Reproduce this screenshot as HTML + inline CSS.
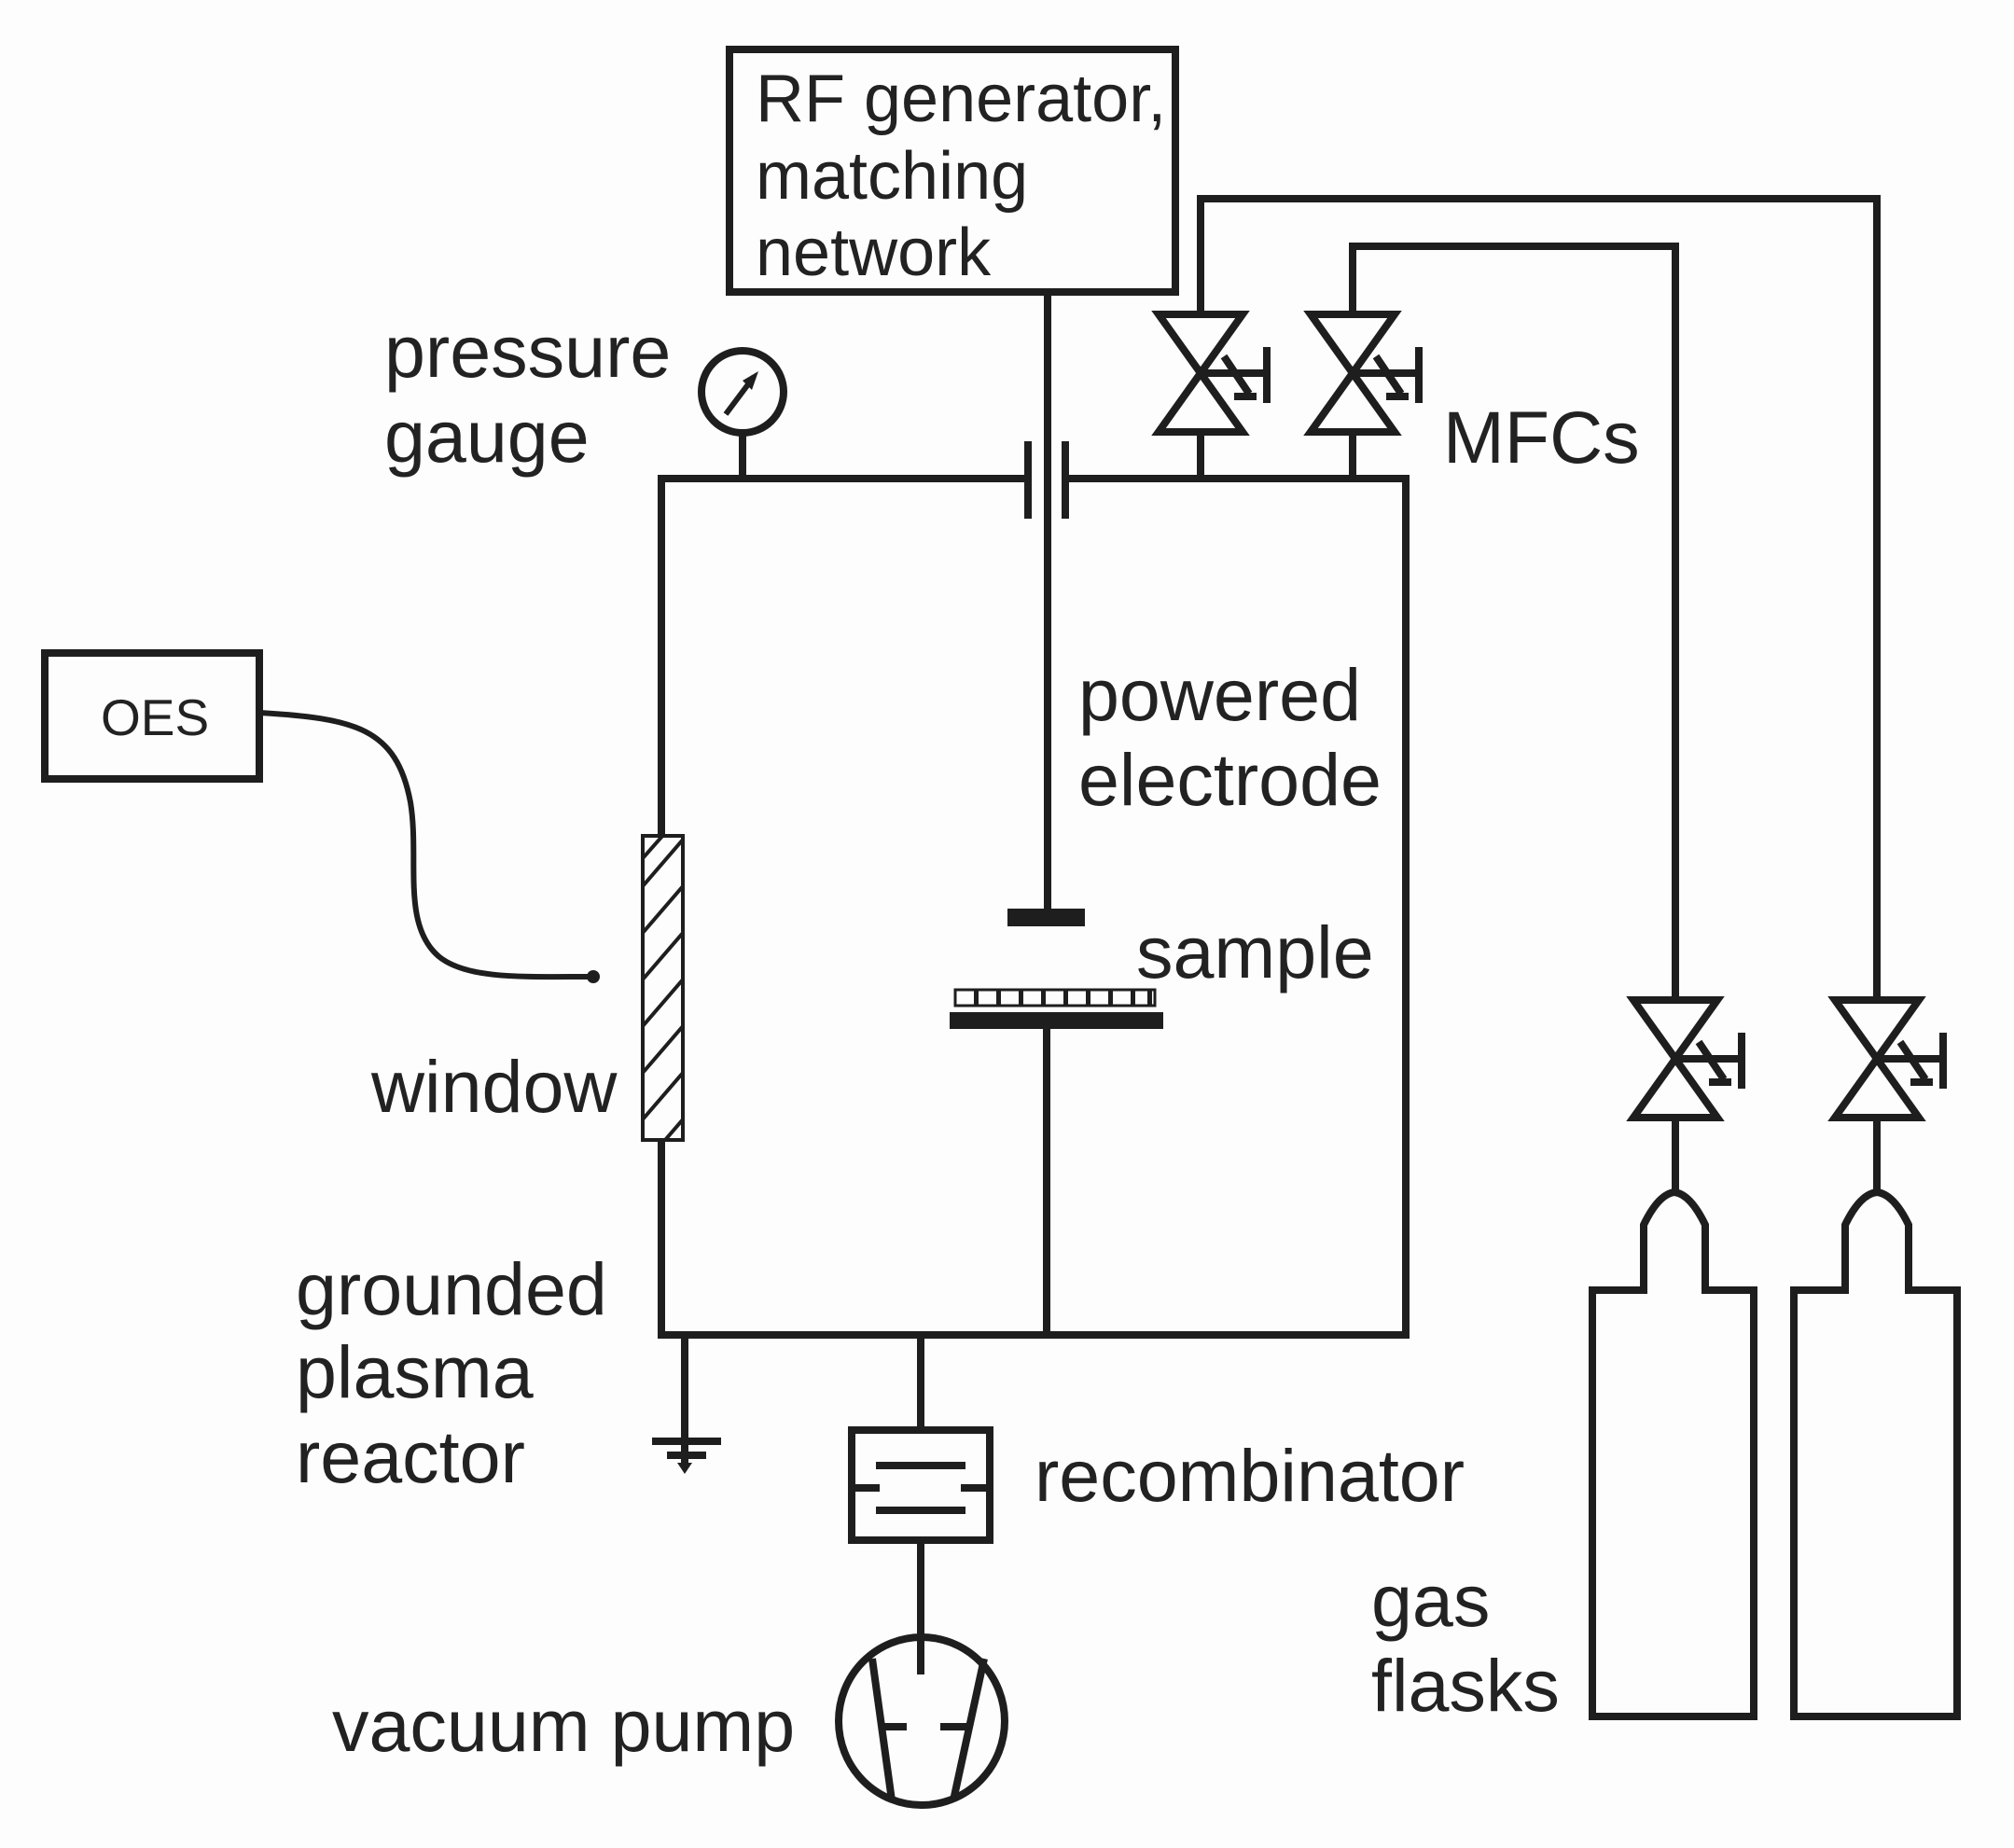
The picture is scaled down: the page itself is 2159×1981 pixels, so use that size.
<!DOCTYPE html>
<html><head><meta charset="utf-8"><style>
html,body{margin:0;padding:0;background:#fdfdfd;}
svg{display:block;}
text{font-family:"Liberation Sans",Arial,sans-serif;fill:#222;}
</style></head><body>
<svg width="2159" height="1981" viewBox="0 0 2159 1981" xmlns="http://www.w3.org/2000/svg">
<defs>
<clipPath id="win"><rect x="689" y="896" width="43" height="326"/></clipPath>
<g id="valve" fill="none" stroke="#1e1e1e" stroke-width="8">
  <polygon points="-45,-63 45,-63 0,0"/>
  <polygon points="0,0 -45,63 45,63"/>
  <line x1="0" y1="0" x2="71" y2="0"/>
  <line x1="71" y1="-28" x2="71" y2="32"/>
  <line x1="25" y1="-18" x2="52" y2="22"/>
  <line x1="36" y1="25" x2="60" y2="25"/>
</g>
</defs>
<rect width="2159" height="1981" fill="#fdfdfd"/>
<g fill="none" stroke="#1e1e1e" stroke-width="8">
  <rect x="782" y="53" width="478" height="260"/>
  <line x1="1123" y1="313" x2="1123" y2="993"/>
  <line x1="1102" y1="473" x2="1102" y2="556"/>
  <line x1="1142" y1="473" x2="1142" y2="556"/>
  <polyline points="1102,513 709,513 709,1431 1507,1431 1507,513 1142,513"/>
  <line x1="1122" y1="1103" x2="1122" y2="1431"/>
  <ellipse cx="796" cy="420" rx="44" ry="44"/>
  <line x1="796" y1="464" x2="796" y2="513"/>
  <line x1="778" y1="444" x2="808" y2="404" stroke-width="6"/>
  <line x1="1287" y1="465" x2="1287" y2="513"/>
  <line x1="1450" y1="465" x2="1450" y2="513"/>
  <polyline points="1287,337 1287,213 2012,213 2012,1072"/>
  <polyline points="1450,337 1450,264 1796,264 1796,1072"/>
  <line x1="1796" y1="1198" x2="1796" y2="1278"/>
  <line x1="2012" y1="1198" x2="2012" y2="1278"/>
  <path d="M1707,1840 L1707,1383 L1762,1383 L1762,1313 Q1778,1280 1795,1278 Q1812,1280 1828,1313 L1828,1383 L1880,1383 L1880,1840 Z"/>
  <path d="M1923,1840 L1923,1383 L1978,1383 L1978,1313 Q1994,1280 2012,1278 Q2030,1280 2046,1313 L2046,1383 L2098,1383 L2098,1840 Z"/>
  <rect x="48" y="700" width="230" height="135"/>
  <path d="M278,764 C380,770 425,780 440,860 C450,920 430,990 470,1025 C500,1050 560,1047 634,1047" stroke-width="6"/>
  <line x1="734" y1="1431" x2="734" y2="1572"/>
  <line x1="699" y1="1545" x2="773" y2="1545"/>
  <line x1="715" y1="1560" x2="757" y2="1560"/>
  <line x1="987" y1="1431" x2="987" y2="1530"/>
  <rect x="913" y="1533" width="148" height="118"/>
  <line x1="939" y1="1571" x2="1035" y2="1571"/>
  <line x1="939" y1="1619" x2="1035" y2="1619"/>
  <line x1="913" y1="1595" x2="943" y2="1595"/>
  <line x1="1030" y1="1595" x2="1061" y2="1595"/>
  <line x1="987" y1="1651" x2="987" y2="1795"/>
  <ellipse cx="988" cy="1845" rx="89" ry="90"/>
  <line x1="935" y1="1778" x2="956" y2="1930"/>
  <line x1="1055" y1="1778" x2="1022" y2="1930"/>
  <line x1="943" y1="1851" x2="972" y2="1851"/>
  <line x1="1008" y1="1851" x2="1040" y2="1851"/>
  <rect x="689" y="896" width="43" height="326" fill="#fdfdfd" stroke-width="4"/>
  <g clip-path="url(#win)" stroke-width="4">
    <line x1="689" y1="950" x2="732" y2="900"/>
    <line x1="689" y1="1000" x2="732" y2="950"/>
    <line x1="689" y1="1050" x2="732" y2="1000"/>
    <line x1="689" y1="1100" x2="732" y2="1050"/>
    <line x1="689" y1="1150" x2="732" y2="1100"/>
    <line x1="689" y1="1200" x2="732" y2="1150"/>
    <line x1="689" y1="1250" x2="732" y2="1200"/>
    <line x1="689" y1="920" x2="712" y2="894"/>
  </g>
  <rect x="1024" y="1061" width="214" height="17" stroke-width="3"/>
</g>
<g fill="#1e1e1e">
  <polygon points="813,398 796,408 806,418"/>
  <circle cx="636" cy="1047" r="7"/>
  <polygon points="726,1568 742,1568 734,1580"/>
  <rect x="1080" y="974" width="83" height="19"/>
  <rect x="1018" y="1085" width="229" height="18"/>
  <rect x="1044" y="1061" width="5" height="17"/><rect x="1068" y="1061" width="5" height="17"/>
  <rect x="1092" y="1061" width="5" height="17"/><rect x="1116" y="1061" width="5" height="17"/>
  <rect x="1140" y="1061" width="5" height="17"/><rect x="1164" y="1061" width="5" height="17"/>
  <rect x="1188" y="1061" width="5" height="17"/><rect x="1212" y="1061" width="5" height="17"/>
  <rect x="1230" y="1061" width="5" height="17"/>
</g>
<use href="#valve" x="1287" y="400"/>
<use href="#valve" x="1450" y="400"/>
<use href="#valve" x="1796" y="1135"/>
<use href="#valve" x="2012" y="1135"/>
<g font-size="72">
  <text x="810" y="130">RF generator,</text>
  <text x="810" y="213">matching</text>
  <text x="810" y="295">network</text>
</g>
<g font-size="79">
  <text x="412" y="404">pressure</text>
  <text x="412" y="495">gauge</text>
  <text x="1547" y="496">MFCs</text>
  <text x="1156" y="772">powered</text>
  <text x="1156" y="863">electrode</text>
  <text x="1218" y="1048">sample</text>
  <text x="398" y="1192">window</text>
  <text x="317" y="1409">grounded</text>
  <text x="317" y="1498">plasma</text>
  <text x="317" y="1589">reactor</text>
  <text x="1109" y="1609">recombinator</text>
  <text x="356" y="1877">vacuum pump</text>
  <text x="1470" y="1743">gas</text>
  <text x="1470" y="1834">flasks</text>
</g>
<text x="108" y="788" font-size="55">OES</text>
</svg>
</body></html>
